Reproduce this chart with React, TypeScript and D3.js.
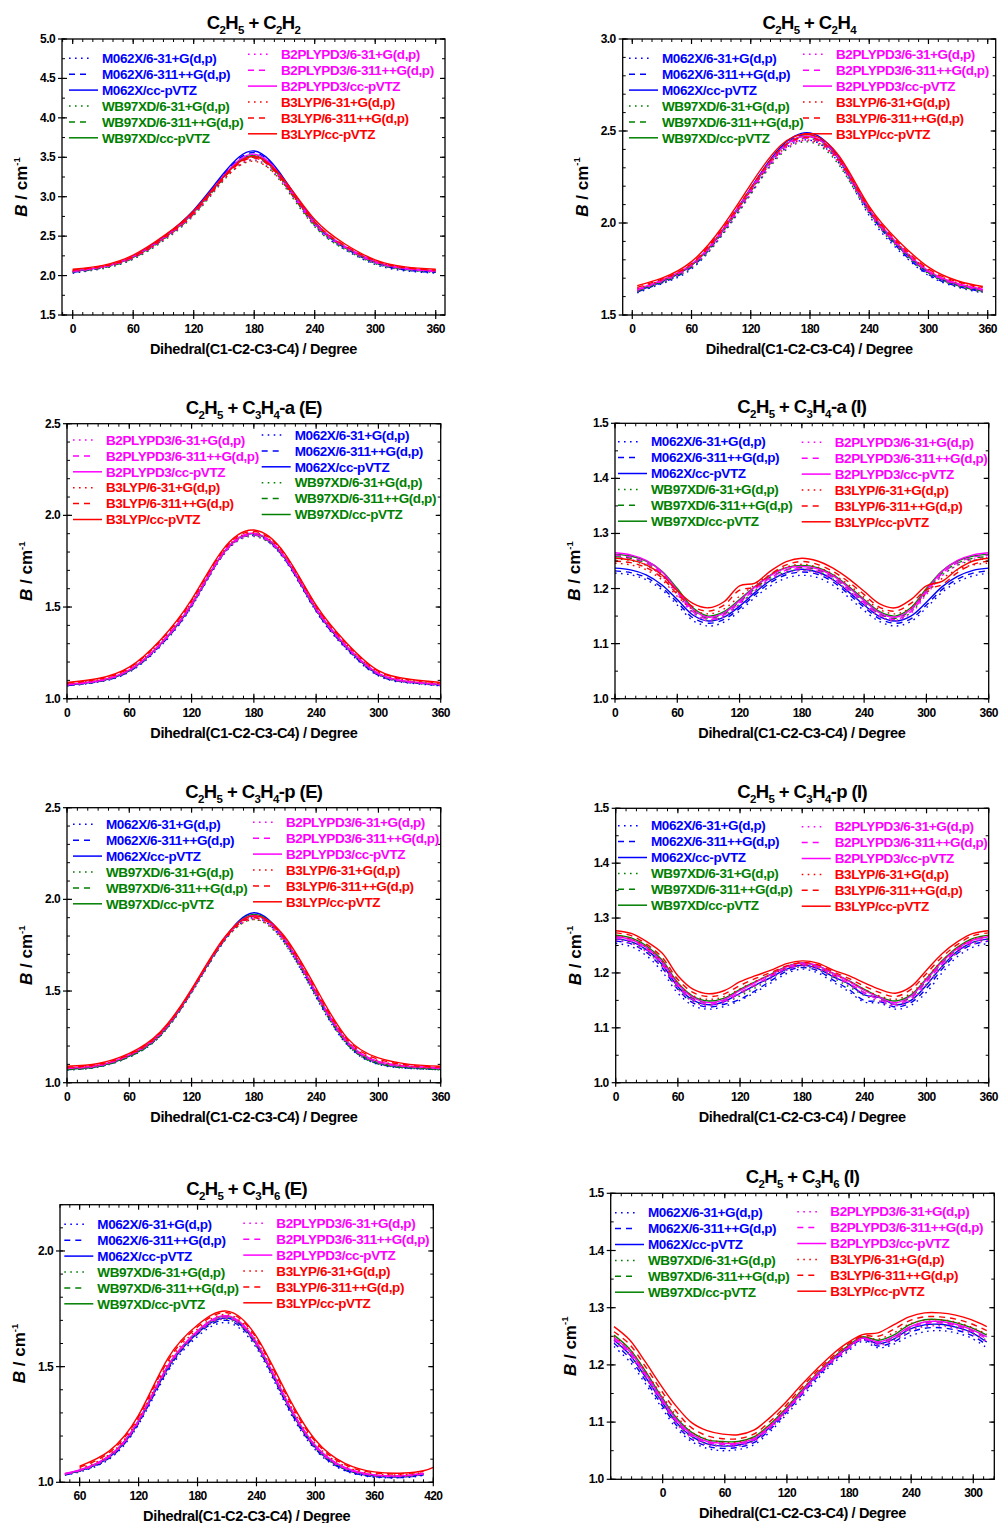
import React from "react";
import * as d3 from "d3";

// ---------- series definitions ----------
const seriesNames = [
  "M062X/6-31+G(d,p)", "M062X/6-311++G(d,p)", "M062X/cc-pVTZ",
  "WB97XD/6-31+G(d,p)", "WB97XD/6-311++G(d,p)", "WB97XD/cc-pVTZ",
  "B2PLYPD3/6-31+G(d,p)", "B2PLYPD3/6-311++G(d,p)", "B2PLYPD3/cc-pVTZ",
  "B3LYP/6-31+G(d,p)", "B3LYP/6-311++G(d,p)", "B3LYP/cc-pVTZ",
];
const seriesColors = [
  "#0000ff", "#0000ff", "#0000ff",
  "#008000", "#008000", "#008000",
  "#ff00ff", "#ff00ff", "#ff00ff",
  "#ff0000", "#ff0000", "#ff0000",
];
const seriesStyles = ["dot", "dash", "solid", "dot", "dash", "solid", "dot", "dash", "solid", "dot", "dash", "solid"];

// ---------- panel 1: C2H5 + C2H2 ----------
const xC2H2 = [0, 30, 60, 90, 120, 150, 180, 210, 240, 270, 300, 330, 360];
const bC2H2 = [
  [2.03, 2.09, 2.21, 2.45, 2.78, 3.25, 3.53, 3.17, 2.63, 2.33, 2.14, 2.06, 2.03],
  [2.04, 2.10, 2.23, 2.47, 2.81, 3.28, 3.56, 3.20, 2.66, 2.35, 2.16, 2.07, 2.04],
  [2.05, 2.11, 2.24, 2.49, 2.83, 3.30, 3.58, 3.22, 2.68, 2.36, 2.17, 2.08, 2.05],
  [2.04, 2.09, 2.21, 2.44, 2.76, 3.21, 3.46, 3.13, 2.62, 2.33, 2.15, 2.07, 2.04],
  [2.05, 2.10, 2.22, 2.46, 2.78, 3.24, 3.50, 3.16, 2.64, 2.35, 2.16, 2.08, 2.05],
  [2.06, 2.11, 2.23, 2.47, 2.80, 3.26, 3.52, 3.18, 2.66, 2.36, 2.17, 2.09, 2.06],
  [2.05, 2.10, 2.22, 2.45, 2.77, 3.22, 3.47, 3.15, 2.64, 2.35, 2.16, 2.08, 2.05],
  [2.05, 2.11, 2.23, 2.47, 2.79, 3.25, 3.51, 3.18, 2.66, 2.36, 2.17, 2.09, 2.05],
  [2.06, 2.11, 2.24, 2.48, 2.81, 3.27, 3.54, 3.20, 2.67, 2.37, 2.18, 2.09, 2.06],
  [2.06, 2.11, 2.23, 2.46, 2.78, 3.22, 3.45, 3.15, 2.66, 2.37, 2.18, 2.10, 2.06],
  [2.07, 2.12, 2.24, 2.48, 2.80, 3.24, 3.49, 3.18, 2.68, 2.38, 2.19, 2.10, 2.07],
  [2.08, 2.13, 2.26, 2.50, 2.82, 3.26, 3.51, 3.21, 2.71, 2.40, 2.20, 2.11, 2.08],
];

// ---------- panel 2: C2H5 + C2H4 ----------
const xC2H4 = [5, 30, 60, 90, 120, 150, 180, 210, 240, 270, 300, 330, 355];
const bC2H4 = [
  [1.62, 1.67, 1.75, 1.93, 2.16, 2.38, 2.45, 2.32, 2.04, 1.85, 1.715, 1.65, 1.62],
  [1.625, 1.675, 1.76, 1.94, 2.18, 2.40, 2.48, 2.34, 2.06, 1.86, 1.72, 1.655, 1.625],
  [1.63, 1.68, 1.77, 1.95, 2.19, 2.41, 2.49, 2.35, 2.07, 1.87, 1.73, 1.66, 1.63],
  [1.625, 1.675, 1.755, 1.925, 2.155, 2.37, 2.44, 2.31, 2.05, 1.86, 1.725, 1.655, 1.625],
  [1.63, 1.68, 1.765, 1.94, 2.17, 2.39, 2.46, 2.33, 2.06, 1.87, 1.73, 1.66, 1.63],
  [1.635, 1.685, 1.77, 1.945, 2.18, 2.40, 2.47, 2.34, 2.07, 1.875, 1.735, 1.665, 1.635],
  [1.63, 1.68, 1.76, 1.93, 2.16, 2.375, 2.445, 2.32, 2.055, 1.865, 1.73, 1.66, 1.63],
  [1.635, 1.685, 1.77, 1.945, 2.175, 2.39, 2.46, 2.335, 2.065, 1.875, 1.735, 1.665, 1.635],
  [1.64, 1.69, 1.775, 1.95, 2.185, 2.40, 2.47, 2.345, 2.075, 1.88, 1.74, 1.67, 1.64],
  [1.645, 1.69, 1.775, 1.95, 2.175, 2.385, 2.45, 2.33, 2.07, 1.88, 1.745, 1.675, 1.645],
  [1.65, 1.695, 1.78, 1.96, 2.19, 2.40, 2.465, 2.345, 2.08, 1.89, 1.75, 1.68, 1.65],
  [1.66, 1.70, 1.79, 1.97, 2.21, 2.42, 2.48, 2.36, 2.09, 1.90, 1.76, 1.685, 1.655],
];

// ---------- panel 3: C2H5 + C3H4-a (E) ----------
const xC3H4aE = [0, 30, 60, 90, 120, 150, 180, 210, 240, 270, 300, 330, 360];
const bC3H4aE = [
  [1.07, 1.09, 1.145, 1.285, 1.50, 1.78, 1.89, 1.755, 1.475, 1.265, 1.125, 1.085, 1.07],
  [1.072, 1.092, 1.148, 1.29, 1.505, 1.785, 1.895, 1.76, 1.48, 1.27, 1.128, 1.088, 1.072],
  [1.075, 1.095, 1.152, 1.295, 1.51, 1.79, 1.90, 1.765, 1.485, 1.275, 1.132, 1.09, 1.075],
  [1.072, 1.093, 1.15, 1.29, 1.505, 1.78, 1.885, 1.76, 1.482, 1.272, 1.13, 1.088, 1.072],
  [1.075, 1.095, 1.153, 1.295, 1.51, 1.785, 1.893, 1.765, 1.487, 1.277, 1.134, 1.09, 1.075],
  [1.077, 1.097, 1.155, 1.298, 1.515, 1.79, 1.90, 1.77, 1.49, 1.28, 1.136, 1.092, 1.077],
  [1.073, 1.094, 1.152, 1.292, 1.507, 1.782, 1.888, 1.762, 1.484, 1.274, 1.132, 1.089, 1.073],
  [1.076, 1.096, 1.155, 1.297, 1.512, 1.787, 1.895, 1.767, 1.489, 1.279, 1.136, 1.091, 1.076],
  [1.078, 1.098, 1.157, 1.30, 1.517, 1.792, 1.902, 1.772, 1.492, 1.282, 1.138, 1.093, 1.078],
  [1.082, 1.103, 1.165, 1.31, 1.528, 1.80, 1.905, 1.78, 1.50, 1.29, 1.145, 1.10, 1.082],
  [1.085, 1.106, 1.168, 1.315, 1.533, 1.805, 1.912, 1.785, 1.505, 1.295, 1.149, 1.103, 1.085],
  [1.088, 1.11, 1.172, 1.32, 1.54, 1.812, 1.92, 1.79, 1.51, 1.30, 1.153, 1.106, 1.088],
];

// ---------- panel 4: C2H5 + C3H4-a (I) ----------
const xC3H4aI = [0, 15, 30, 45, 60, 75, 90, 105, 120, 135, 150, 165, 180, 195, 210, 225, 240, 255, 270, 285, 300, 315, 330, 345, 360];
const bC3H4aI = [
  [1.228, 1.225, 1.216, 1.198, 1.170, 1.142, 1.132, 1.139, 1.159, 1.184, 1.205, 1.219, 1.224, 1.220, 1.206, 1.184, 1.160, 1.140, 1.132, 1.140, 1.165, 1.193, 1.212, 1.223, 1.228],
  [1.232, 1.229, 1.220, 1.202, 1.175, 1.147, 1.137, 1.144, 1.164, 1.189, 1.211, 1.225, 1.230, 1.226, 1.212, 1.190, 1.166, 1.145, 1.137, 1.145, 1.170, 1.198, 1.217, 1.228, 1.232],
  [1.237, 1.234, 1.225, 1.207, 1.180, 1.152, 1.141, 1.148, 1.168, 1.193, 1.215, 1.229, 1.235, 1.230, 1.216, 1.194, 1.170, 1.149, 1.141, 1.150, 1.175, 1.203, 1.222, 1.233, 1.237],
  [1.254, 1.251, 1.242, 1.224, 1.192, 1.157, 1.142, 1.150, 1.172, 1.196, 1.217, 1.230, 1.234, 1.230, 1.217, 1.196, 1.172, 1.150, 1.142, 1.157, 1.192, 1.224, 1.242, 1.251, 1.254],
  [1.258, 1.255, 1.246, 1.228, 1.196, 1.161, 1.146, 1.154, 1.176, 1.200, 1.221, 1.234, 1.238, 1.234, 1.221, 1.200, 1.176, 1.154, 1.146, 1.161, 1.196, 1.228, 1.246, 1.255, 1.258],
  [1.262, 1.259, 1.250, 1.232, 1.200, 1.165, 1.150, 1.158, 1.180, 1.204, 1.225, 1.238, 1.242, 1.238, 1.225, 1.204, 1.180, 1.158, 1.150, 1.165, 1.200, 1.232, 1.250, 1.259, 1.262],
  [1.257, 1.253, 1.243, 1.223, 1.189, 1.155, 1.141, 1.149, 1.171, 1.196, 1.217, 1.229, 1.232, 1.228, 1.215, 1.195, 1.171, 1.149, 1.141, 1.155, 1.189, 1.223, 1.243, 1.253, 1.257],
  [1.261, 1.257, 1.247, 1.227, 1.193, 1.158, 1.144, 1.152, 1.174, 1.199, 1.220, 1.233, 1.236, 1.232, 1.219, 1.198, 1.174, 1.152, 1.144, 1.158, 1.193, 1.227, 1.247, 1.257, 1.261],
  [1.265, 1.261, 1.251, 1.231, 1.197, 1.162, 1.148, 1.156, 1.178, 1.203, 1.224, 1.237, 1.240, 1.236, 1.223, 1.202, 1.178, 1.156, 1.148, 1.162, 1.197, 1.231, 1.251, 1.261, 1.265],
  [1.246, 1.243, 1.234, 1.216, 1.186, 1.162, 1.154, 1.163, 1.186, 1.207, 1.226, 1.239, 1.244, 1.239, 1.226, 1.207, 1.184, 1.162, 1.154, 1.165, 1.192, 1.218, 1.234, 1.243, 1.246],
  [1.250, 1.247, 1.238, 1.220, 1.190, 1.167, 1.159, 1.170, 1.197, 1.203, 1.226, 1.243, 1.249, 1.244, 1.231, 1.212, 1.189, 1.166, 1.159, 1.173, 1.198, 1.207, 1.229, 1.244, 1.250],
  [1.255, 1.252, 1.243, 1.225, 1.196, 1.173, 1.165, 1.176, 1.205, 1.210, 1.232, 1.249, 1.255, 1.250, 1.237, 1.218, 1.195, 1.172, 1.165, 1.180, 1.205, 1.213, 1.235, 1.250, 1.255],
];

// ---------- panel 5: C2H5 + C3H4-p (E) ----------
const xC3H4pE = [0, 30, 60, 90, 120, 150, 180, 210, 240, 270, 300, 330, 360];
const bC3H4pE = [
  [1.07, 1.085, 1.14, 1.255, 1.49, 1.76, 1.90, 1.76, 1.465, 1.205, 1.10, 1.078, 1.07],
  [1.072, 1.087, 1.142, 1.258, 1.495, 1.765, 1.915, 1.77, 1.475, 1.21, 1.103, 1.08, 1.072],
  [1.075, 1.09, 1.145, 1.262, 1.50, 1.772, 1.927, 1.78, 1.485, 1.215, 1.107, 1.083, 1.075],
  [1.07, 1.086, 1.14, 1.255, 1.49, 1.76, 1.89, 1.755, 1.47, 1.208, 1.102, 1.079, 1.07],
  [1.072, 1.088, 1.143, 1.26, 1.497, 1.768, 1.908, 1.77, 1.48, 1.213, 1.105, 1.082, 1.072],
  [1.075, 1.09, 1.146, 1.263, 1.502, 1.773, 1.918, 1.78, 1.488, 1.218, 1.108, 1.084, 1.075],
  [1.076, 1.09, 1.146, 1.262, 1.495, 1.765, 1.895, 1.765, 1.48, 1.215, 1.108, 1.085, 1.076],
  [1.078, 1.093, 1.149, 1.266, 1.50, 1.77, 1.905, 1.775, 1.487, 1.22, 1.112, 1.088, 1.078],
  [1.08, 1.095, 1.152, 1.27, 1.505, 1.775, 1.912, 1.78, 1.492, 1.225, 1.116, 1.09, 1.08],
  [1.08, 1.095, 1.15, 1.268, 1.50, 1.765, 1.89, 1.77, 1.495, 1.228, 1.12, 1.09, 1.08],
  [1.085, 1.10, 1.155, 1.273, 1.505, 1.772, 1.90, 1.785, 1.505, 1.236, 1.128, 1.095, 1.085],
  [1.09, 1.105, 1.16, 1.278, 1.51, 1.78, 1.91, 1.795, 1.515, 1.243, 1.135, 1.10, 1.09],
];

// ---------- panel 6: C2H5 + C3H4-p (I) ----------
const xC3H4pI = [0, 15, 30, 45, 60, 75, 90, 105, 120, 135, 150, 165, 180, 195, 210, 225, 240, 255, 270, 285, 300, 315, 330, 345, 360];
const bC3H4pI = [
  [1.254, 1.248, 1.231, 1.202, 1.163, 1.140, 1.134, 1.139, 1.150, 1.165, 1.182, 1.199, 1.207, 1.200, 1.183, 1.166, 1.147, 1.145, 1.134, 1.141, 1.165, 1.200, 1.230, 1.247, 1.254],
  [1.258, 1.253, 1.237, 1.209, 1.170, 1.145, 1.138, 1.143, 1.152, 1.168, 1.186, 1.203, 1.210, 1.204, 1.187, 1.170, 1.150, 1.148, 1.138, 1.146, 1.172, 1.207, 1.236, 1.252, 1.258],
  [1.262, 1.257, 1.242, 1.215, 1.175, 1.150, 1.142, 1.148, 1.163, 1.178, 1.192, 1.207, 1.214, 1.208, 1.193, 1.180, 1.160, 1.155, 1.142, 1.150, 1.178, 1.212, 1.240, 1.256, 1.262],
  [1.262, 1.256, 1.240, 1.212, 1.172, 1.148, 1.142, 1.146, 1.158, 1.173, 1.190, 1.205, 1.211, 1.206, 1.191, 1.175, 1.159, 1.148, 1.142, 1.151, 1.180, 1.212, 1.239, 1.255, 1.262],
  [1.266, 1.261, 1.246, 1.219, 1.178, 1.153, 1.146, 1.150, 1.163, 1.178, 1.194, 1.209, 1.215, 1.210, 1.195, 1.180, 1.164, 1.152, 1.146, 1.156, 1.186, 1.218, 1.244, 1.260, 1.266],
  [1.269, 1.264, 1.249, 1.223, 1.182, 1.157, 1.149, 1.154, 1.170, 1.184, 1.198, 1.212, 1.218, 1.213, 1.199, 1.186, 1.170, 1.156, 1.149, 1.160, 1.190, 1.222, 1.247, 1.263, 1.269],
  [1.259, 1.254, 1.238, 1.211, 1.171, 1.147, 1.140, 1.146, 1.161, 1.176, 1.191, 1.205, 1.212, 1.207, 1.193, 1.178, 1.161, 1.148, 1.140, 1.150, 1.179, 1.211, 1.237, 1.253, 1.259],
  [1.263, 1.258, 1.243, 1.216, 1.176, 1.151, 1.143, 1.149, 1.164, 1.179, 1.194, 1.208, 1.215, 1.210, 1.196, 1.181, 1.164, 1.151, 1.143, 1.154, 1.184, 1.216, 1.242, 1.257, 1.263],
  [1.266, 1.261, 1.246, 1.220, 1.180, 1.155, 1.146, 1.152, 1.168, 1.183, 1.197, 1.211, 1.218, 1.213, 1.199, 1.185, 1.168, 1.155, 1.146, 1.158, 1.188, 1.220, 1.245, 1.260, 1.266],
  [1.268, 1.262, 1.246, 1.220, 1.181, 1.158, 1.152, 1.157, 1.171, 1.185, 1.197, 1.209, 1.215, 1.210, 1.197, 1.185, 1.170, 1.158, 1.152, 1.163, 1.192, 1.222, 1.246, 1.262, 1.268],
  [1.273, 1.268, 1.252, 1.228, 1.188, 1.164, 1.157, 1.162, 1.177, 1.190, 1.201, 1.213, 1.219, 1.215, 1.202, 1.190, 1.176, 1.164, 1.157, 1.170, 1.199, 1.229, 1.252, 1.268, 1.273],
  [1.277, 1.272, 1.257, 1.236, 1.195, 1.170, 1.162, 1.168, 1.184, 1.195, 1.205, 1.217, 1.222, 1.218, 1.205, 1.195, 1.182, 1.170, 1.163, 1.175, 1.205, 1.235, 1.257, 1.272, 1.277],
];

// ---------- panel 7: C2H5 + C3H6 (E) ----------
const xC3H6E = [45, 60, 90, 120, 150, 180, 210, 240, 270, 300, 330, 360, 390, 410, 420];
const bC3H6E = [
  [1.03, 1.045, 1.10, 1.25, 1.48, 1.63, 1.69, 1.58, 1.335, 1.14, 1.05, 1.022, 1.02, 1.03, null],
  [1.032, 1.047, 1.104, 1.255, 1.488, 1.64, 1.70, 1.59, 1.343, 1.145, 1.053, 1.024, 1.022, 1.032, null],
  [1.035, 1.05, 1.108, 1.26, 1.495, 1.645, 1.71, 1.595, 1.35, 1.15, 1.056, 1.027, 1.024, 1.034, null],
  [1.033, 1.048, 1.106, 1.258, 1.492, 1.642, 1.705, 1.59, 1.347, 1.148, 1.056, 1.027, 1.024, 1.034, null],
  [1.035, 1.05, 1.11, 1.263, 1.498, 1.648, 1.712, 1.597, 1.353, 1.153, 1.059, 1.029, 1.026, 1.036, null],
  [1.037, 1.052, 1.113, 1.267, 1.503, 1.653, 1.718, 1.603, 1.358, 1.157, 1.062, 1.031, 1.028, 1.038, null],
  [1.034, 1.049, 1.108, 1.26, 1.495, 1.645, 1.708, 1.594, 1.35, 1.151, 1.058, 1.028, 1.025, 1.035, null],
  [1.036, 1.051, 1.111, 1.264, 1.50, 1.65, 1.714, 1.60, 1.356, 1.155, 1.061, 1.03, 1.027, 1.037, null],
  [1.038, 1.053, 1.114, 1.268, 1.505, 1.655, 1.72, 1.605, 1.36, 1.159, 1.064, 1.032, 1.029, 1.039, null],
  [null, 1.06, 1.12, 1.275, 1.515, 1.663, 1.725, 1.613, 1.37, 1.168, 1.07, 1.037, 1.033, 1.043, null],
  [null, 1.065, 1.128, 1.283, 1.526, 1.672, 1.733, 1.622, 1.38, 1.176, 1.076, 1.041, 1.037, 1.047, null],
  [null, 1.07, 1.135, 1.29, 1.537, 1.68, 1.74, 1.63, 1.39, 1.183, 1.082, 1.045, 1.04, 1.05, 1.065],
];

// ---------- panel 8: C2H5 + C3H6 (I) ----------
const xC3H6I = [-47, -32, -17, -2, 13, 28, 43, 58, 73, 88, 103, 118, 133, 148, 163, 178, 193, 208, 223, 238, 253, 268, 283, 298, 313];
const bC3H6I = [
  [1.232, 1.206, 1.168, 1.128, 1.090, 1.066, 1.054, 1.050, 1.052, 1.060, 1.082, 1.110, 1.140, 1.172, 1.200, 1.222, 1.241, 1.230, 1.236, 1.250, 1.258, 1.260, 1.256, 1.247, 1.230],
  [1.238, 1.212, 1.174, 1.133, 1.095, 1.070, 1.058, 1.054, 1.056, 1.064, 1.086, 1.114, 1.145, 1.176, 1.204, 1.226, 1.244, 1.233, 1.240, 1.256, 1.264, 1.265, 1.261, 1.252, 1.235],
  [1.243, 1.218, 1.180, 1.139, 1.100, 1.075, 1.062, 1.058, 1.060, 1.068, 1.090, 1.118, 1.149, 1.180, 1.207, 1.229, 1.247, 1.237, 1.245, 1.262, 1.270, 1.271, 1.266, 1.257, 1.240],
  [1.244, 1.219, 1.180, 1.138, 1.099, 1.074, 1.062, 1.059, 1.060, 1.068, 1.089, 1.116, 1.146, 1.177, 1.204, 1.226, 1.245, 1.236, 1.244, 1.260, 1.268, 1.270, 1.266, 1.257, 1.243],
  [1.248, 1.224, 1.186, 1.143, 1.104, 1.078, 1.066, 1.063, 1.063, 1.071, 1.092, 1.119, 1.150, 1.180, 1.207, 1.229, 1.247, 1.240, 1.248, 1.265, 1.274, 1.275, 1.270, 1.261, 1.248],
  [1.252, 1.228, 1.190, 1.147, 1.108, 1.082, 1.069, 1.066, 1.066, 1.074, 1.095, 1.122, 1.153, 1.183, 1.210, 1.232, 1.249, 1.243, 1.252, 1.270, 1.279, 1.279, 1.274, 1.265, 1.252],
  [1.241, 1.217, 1.179, 1.137, 1.098, 1.072, 1.060, 1.058, 1.058, 1.066, 1.087, 1.114, 1.145, 1.176, 1.203, 1.225, 1.244, 1.235, 1.242, 1.258, 1.267, 1.268, 1.264, 1.255, 1.241],
  [1.245, 1.221, 1.183, 1.141, 1.102, 1.076, 1.064, 1.061, 1.061, 1.069, 1.090, 1.117, 1.148, 1.179, 1.206, 1.228, 1.246, 1.238, 1.246, 1.263, 1.272, 1.273, 1.268, 1.259, 1.246],
  [1.248, 1.224, 1.186, 1.144, 1.105, 1.079, 1.066, 1.063, 1.063, 1.071, 1.092, 1.119, 1.150, 1.181, 1.208, 1.230, 1.247, 1.240, 1.249, 1.266, 1.275, 1.276, 1.271, 1.262, 1.249],
  [1.250, 1.228, 1.190, 1.150, 1.112, 1.083, 1.070, 1.065, 1.065, 1.074, 1.095, 1.122, 1.153, 1.183, 1.209, 1.231, 1.249, 1.245, 1.256, 1.271, 1.278, 1.279, 1.275, 1.266, 1.254],
  [1.258, 1.236, 1.198, 1.157, 1.119, 1.090, 1.076, 1.071, 1.071, 1.079, 1.100, 1.127, 1.158, 1.187, 1.213, 1.235, 1.251, 1.250, 1.262, 1.277, 1.284, 1.284, 1.280, 1.272, 1.260],
  [1.267, 1.244, 1.206, 1.165, 1.128, 1.099, 1.085, 1.079, 1.078, 1.086, 1.107, 1.133, 1.163, 1.191, 1.217, 1.238, 1.253, 1.256, 1.270, 1.284, 1.291, 1.291, 1.287, 1.279, 1.267],
];

// ---------- tick labels ----------
const xTicks360 = [0, 60, 120, 180, 240, 300, 360];
const xTicks420 = [60, 120, 180, 240, 300, 360, 420];
const xTicks300 = [0, 60, 120, 180, 240, 300];
const yTicksC2H2 = [1.5, 2.0, 2.5, 3.0, 3.5, 4.0, 4.5, 5.0];
const yTicksC2H4 = [1.5, 2.0, 2.5, 3.0];
const yTicksE = [1.0, 1.5, 2.0, 2.5];
const yTicksI = [1.0, 1.1, 1.2, 1.3, 1.4, 1.5];
const yTicksC3H6E = [1.0, 1.5, 2.0];

const titles = [
  "C_2H_5 + C_2H_2", "C_2H_5 + C_2H_4",
  "C_2H_5 + C_3H_4-a (E)", "C_2H_5 + C_3H_4-a (I)",
  "C_2H_5 + C_3H_4-p (E)", "C_2H_5 + C_3H_4-p (I)",
  "C_2H_5 + C_3H_6 (E)", "C_2H_5 + C_3H_6 (I)",
];

// ---------- layout (pixels) ----------
const panels = [
  { title: titles[0], xs: xC2H2, ys: bC2H2, left: 62, right: 445, top: 39, bottom: 315, xd: [-10.6, 369.2], yd: [1.5, 5.0], xt: xTicks360, yt: yTicksC2H2, yMinor: 0.25, smooth: true,
    leg: { l: [69, 58.3], r: [248, 54.3], leftFirst: "bg" } },
  { title: titles[1], xs: xC2H4, ys: bC2H4, left: 622.7, right: 995.7, top: 39, bottom: 315, xd: [-9.7, 368.1], yd: [1.5, 3.0], xt: xTicks360, yt: yTicksC2H4, yMinor: 0.1, smooth: true,
    leg: { l: [629, 58.3], r: [803, 54.3], leftFirst: "bg" } },
  { title: titles[2], xs: xC3H4aE, ys: bC3H4aE, left: 67, right: 440.7, top: 423.7, bottom: 698.7, xd: [0, 360], yd: [1.0, 2.5], xt: xTicks360, yt: yTicksE, yMinor: 0.1, smooth: true,
    leg: { l: [73, 440], r: [261.7, 435], leftFirst: "mr" } },
  { title: titles[3], xs: xC3H4aI, ys: bC3H4aI, left: 615, right: 988.7, top: 423.3, bottom: 698.7, xd: [0, 360], yd: [1.0, 1.5], xt: xTicks360, yt: yTicksI, yMinor: 0.05, smooth: false,
    leg: { l: [618, 441.7], r: [801.7, 442.3], leftFirst: "bg" } },
  { title: titles[4], xs: xC3H4pE, ys: bC3H4pE, left: 67, right: 440.7, top: 807.7, bottom: 1082.7, xd: [0, 360], yd: [1.0, 2.5], xt: xTicks360, yt: yTicksE, yMinor: 0.1, smooth: true,
    leg: { l: [73, 824.3], r: [253, 822.3], leftFirst: "bg" } },
  { title: titles[5], xs: xC3H4pI, ys: bC3H4pI, left: 615.7, right: 988.7, top: 808.3, bottom: 1082.7, xd: [0, 360], yd: [1.0, 1.5], xt: xTicks360, yt: yTicksI, yMinor: 0.05, smooth: false,
    leg: { l: [618, 825.7], r: [801.7, 826.7], leftFirst: "bg" } },
  { title: titles[6], xs: xC3H6E, ys: bC3H6E, left: 60, right: 433.3, top: 1204.7, bottom: 1482.3, xd: [40, 420], yd: [1.0, 2.2], xt: xTicks420, yt: yTicksC3H6E, yMinor: 0.1, smooth: true,
    leg: { l: [64.3, 1224.3], r: [243.3, 1223.3], leftFirst: "bg" } },
  { title: titles[7], xs: xC3H6I, ys: bC3H6I, left: 610.7, right: 994.3, top: 1193.3, bottom: 1479.3, xd: [-50.2, 320.3], yd: [1.0, 1.5], xt: xTicks300, yt: yTicksI, yMinor: 0.05, smooth: false,
    leg: { l: [615, 1212.7], r: [797.3, 1211.7], leftFirst: "bg" } },
];

const FONT = "'Liberation Sans', Arial, sans-serif";

function dashFor(style: string) {
  if (style === "dot") return "1.6,4.4";
  if (style === "dash") return "6,5";
  return undefined;
}

function Title({ text, x, y }: { text: string; x: number; y: number }) {
  const parts: { t: string; sub: boolean }[] = [];
  let buf = "";
  for (let i = 0; i < text.length; i++) {
    if (text[i] === "_") {
      if (buf) parts.push({ t: buf, sub: false });
      buf = "";
      parts.push({ t: text[i + 1], sub: true });
      i++;
    } else buf += text[i];
  }
  if (buf) parts.push({ t: buf, sub: false });
  let prevSub = false;
  return (
    <text x={x} y={y} textAnchor="middle" fontFamily={FONT} fontWeight="bold" fontSize={18.5} letterSpacing={-0.6} fill="#000">
      {parts.map((p, i) => {
        const dy = p.sub && !prevSub ? 5 : !p.sub && prevSub ? -5 : 0;
        prevSub = p.sub;
        return (
          <tspan key={i} dy={dy} fontSize={p.sub ? 11.5 : 18.5}>
            {p.t.replace(/ /g, "\u00a0")}
          </tspan>
        );
      })}
    </text>
  );
}

function Panel({ p }: { p: any }) {
  const x = d3.scaleLinear().domain(p.xd).range([p.left, p.right]);
  const y = d3.scaleLinear().domain(p.yd).range([p.bottom, p.top]);
  const line = d3
    .line<[number, number | null]>()
    .defined((d) => d[1] != null)
    .x((d) => x(d[0]))
    .y((d) => y(d[1] as number))
    .curve(p.smooth ? d3.curveNatural : d3.curveCatmullRom.alpha(0.5));

  const xMinor = d3.range(Math.ceil(p.xd[0] / 10) * 10, p.xd[1] + 0.001, 10);
  const yMinor = d3.range(p.yd[0], p.yd[1] + 1e-6, p.yMinor);
  const fmt = d3.format(".1f");
  const cx = (p.left + p.right) / 2;
  const cy = (p.top + p.bottom) / 2;

  const leftIdx = p.leg.leftFirst === "bg" ? [0, 1, 2, 3, 4, 5] : [6, 7, 8, 9, 10, 11];
  const rightIdx = p.leg.leftFirst === "bg" ? [6, 7, 8, 9, 10, 11] : [0, 1, 2, 3, 4, 5];
  const rowH = 15.9;

  const legendCol = (idxs: number[], pos: number[]) =>
    idxs.map((si, k) => {
      const ly = pos[1] + k * rowH;
      const st = seriesStyles[si];
      const len = st === "solid" ? 29 : st === "dash" ? 18 : 21;
      return (
        <g key={si}>
          <line x1={pos[0]} x2={pos[0] + len} y1={ly} y2={ly} stroke={seriesColors[si]} strokeWidth={1.5} strokeDasharray={dashFor(st)} />
          <text x={pos[0] + 33} y={ly + 4.7} fontFamily={FONT} fontWeight="bold" fontSize={13.5} letterSpacing={-0.4} fill={seriesColors[si]}>
            {seriesNames[si]}
          </text>
        </g>
      );
    });

  return (
    <g>
      {/* curves */}
      {p.ys.map((vals: (number | null)[], si: number) => {
        const pts = p.xs.map((xv: number, i: number) => [xv, vals[i]] as [number, number | null]);
        return (
          <path key={si} d={line(pts) || ""} fill="none" stroke={seriesColors[si]} strokeWidth={1.4} strokeDasharray={dashFor(seriesStyles[si])} />
        );
      })}
      {/* frame */}
      <rect x={p.left} y={p.top} width={p.right - p.left} height={p.bottom - p.top} fill="none" stroke="#000" strokeWidth={1.3} />
      {/* x minor ticks */}
      {xMinor.map((v: number) => (
        <g key={"xm" + v}>
          <line x1={x(v)} x2={x(v)} y1={p.bottom} y2={p.bottom - 3} stroke="#000" strokeWidth={1} />
          <line x1={x(v)} x2={x(v)} y1={p.top} y2={p.top + 3} stroke="#000" strokeWidth={1} />
        </g>
      ))}
      {/* x major ticks */}
      {p.xt.map((v: number) => (
        <g key={"xt" + v}>
          <line x1={x(v)} x2={x(v)} y1={p.bottom + 4} y2={p.bottom - 5} stroke="#000" strokeWidth={1.2} />
          <line x1={x(v)} x2={x(v)} y1={p.top} y2={p.top + 5} stroke="#000" strokeWidth={1.2} />
          <text x={x(v)} y={p.bottom + 18} textAnchor="middle" fontFamily={FONT} fontWeight="bold" fontSize={12} letterSpacing={-0.6} fill="#000">
            {v}
          </text>
        </g>
      ))}
      {/* y minor ticks */}
      {yMinor.map((v: number, i: number) => (
        <g key={"ym" + i}>
          <line x1={p.left} x2={p.left + 3} y1={y(v)} y2={y(v)} stroke="#000" strokeWidth={1} />
          <line x1={p.right} x2={p.right - 3} y1={y(v)} y2={y(v)} stroke="#000" strokeWidth={1} />
        </g>
      ))}
      {/* y major ticks */}
      {p.yt.map((v: number) => (
        <g key={"yt" + v}>
          <line x1={p.left - 4} x2={p.left + 5} y1={y(v)} y2={y(v)} stroke="#000" strokeWidth={1.2} />
          <line x1={p.right} x2={p.right - 5} y1={y(v)} y2={y(v)} stroke="#000" strokeWidth={1.2} />
          <text x={p.left - 7} y={y(v) + 4} textAnchor="end" fontFamily={FONT} fontWeight="bold" fontSize={12} letterSpacing={-0.6} fill="#000">
            {fmt(v)}
          </text>
        </g>
      ))}
      {/* axis titles */}
      <text x={cx} y={p.bottom + 39} textAnchor="middle" fontFamily={FONT} fontWeight="bold" fontSize={14.5} letterSpacing={-0.35} fill="#000">
        Dihedral(C1-C2-C3-C4) / Degree
      </text>
      <text transform={`translate(${p.left - 35},${cy + 10}) rotate(-90)`} textAnchor="middle" fontFamily={FONT} fontWeight="bold" fontSize={17} fill="#000">
        <tspan fontStyle="italic">B</tspan>
        <tspan>{"\u00a0/\u00a0cm"}</tspan>
        <tspan fontSize={9.5} dy={-7.5}>-1</tspan>
      </text>
      <Title text={p.title} x={cx} y={p.top - 10} />
      {/* legend */}
      {legendCol(leftIdx, p.leg.l)}
      {legendCol(rightIdx, p.leg.r)}
    </g>
  );
}

export default function App() {
  return (
    <svg width={1000} height={1523} viewBox="0 0 1000 1523" style={{ position: "absolute", left: 0, top: 0, background: "#fff" }}>
      <rect x={0} y={0} width={1000} height={1523} fill="#fff" />
      {panels.map((p, i) => (
        <Panel key={i} p={p} />
      ))}
    </svg>
  );
}
